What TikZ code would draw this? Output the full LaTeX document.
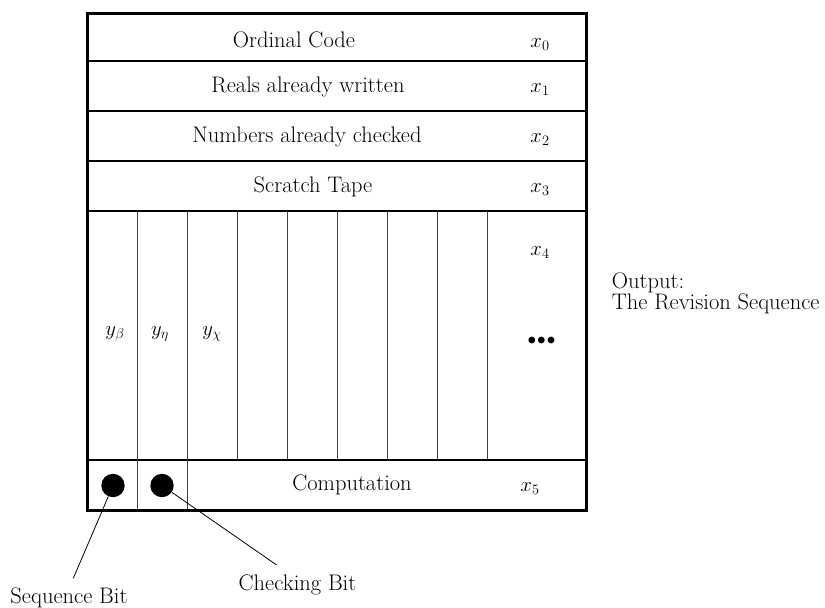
\documentclass[tikz,border=0pt]{standalone}
\begin{document}
\begin{tikzpicture}[x=1pt,y=-1pt,
  txt/.style={font=\fontsize{22.5}{21}\selectfont, inner sep=0pt, anchor=base},
  frame/.style={line width=3pt},
  rule/.style={line width=1.1pt},
  lane/.style={line width=1pt, black!75},
  bit/.style={circle, fill=black, minimum size=23.4pt, inner sep=0pt},
  pointer/.style={line width=0.8pt}]
\useasboundingbox (0,0) rectangle (825,608);

% tape rows and the lanes of the work area
\foreach \y in {61,111,161,211,460} \draw[rule] (87,\y) -- (586,\y);
\foreach \x in {137,187,...,487} \draw[lane] (\x,211) -- (\x,460);
\foreach \x in {137,187} \draw[lane] (\x,460) -- (\x,510);
\draw[frame] (87,13) rectangle (586,510);

% row labels
\node[txt] (ordinal) at (294,47) {Ordinal Code};
\node[txt] (reals)   at (308,92) {Reals already written};
\node[txt] (checked) at (307,142) {Numbers already checked};
\node[txt] (scratch) at (313,192) {Scratch Tape};
\node[txt] (comp)    at (352,490) {Computation};

\node[txt] (x0) at (540,47)  {$x_0$};
\node[txt] (x1) at (540,92)  {$x_1$};
\node[txt] (x2) at (540,142) {$x_2$};
\node[txt] (x3) at (540,192) {$x_3$};
\node[txt] (x4) at (540,255) {$x_4$};
\node[txt] (x5) at (530,491) {$x_5$};

\node[txt] (ybeta) at (115,335) {$y_\beta$};
\node[txt] (yeta)  at (160,335) {$y_\eta$};
\node[txt] (ychi)  at (212,335) {$y_\chi$};

\node[txt, font=\fontsize{30}{30}\selectfont] (more) at (541.5,348)
  {\textbullet\kern-12pt\textbullet\kern-12pt\textbullet};

% output description
\node[txt, anchor=base west, align=left] (output) at (611.7,309)
  {Output:\\The Revision Sequence};

% the two bits and their pointers
\node[bit] (seqbit) at (113,485.5) {};
\node[bit] (chkbit) at (162,485.5) {};

\node[txt] (seqlbl) at (69,603) {Sequence Bit};
\node[txt] (chklbl) at (297.5,590) {Checking Bit};

\coordinate (seqend) at (73.3,578.3);
\coordinate (chkend) at (276.7,565);
\draw[pointer] (seqbit) -- (seqend);
\draw[pointer] (chkbit) -- (chkend);
\end{tikzpicture}
\end{document}
